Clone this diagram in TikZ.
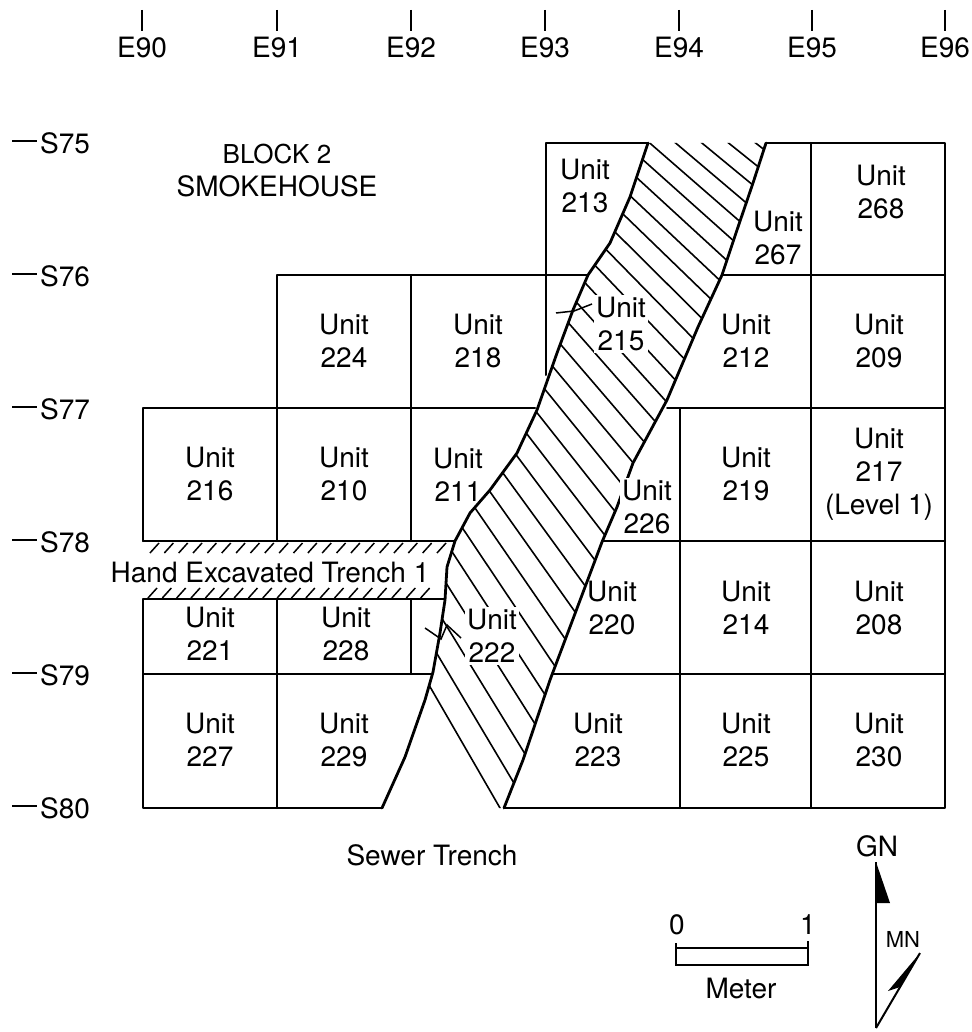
\documentclass[tikz,border=0pt]{standalone}
\usepackage{fontspec}
\setmainfont{TeX Gyre Heros}
\begin{document}
\begin{tikzpicture}[x=1pt,y=-1pt,
  lbl/.style={font=\fontsize{28}{33}\selectfont, align=center, inner sep=1pt},
  unit/.style={lbl},
  wunit/.style={lbl, fill=white, inner sep=2pt},
  grid/.style={line width=2pt, line cap=round, line join=round},
  bound/.style={line width=2.8pt, line cap=round, line join=round},
  hatch/.style={line width=1.6pt},
  slash/.style={line width=1.5pt},
  tick/.style={line width=2.6pt},
  trench/.style={insert path={(648,143) -- (630,197) -- (610,243) -- (588,275) -- (573,310) -- (557,353) -- (537,410) -- (517,453) -- (490,490) -- (470,513) -- (455,541) -- (447,567) -- (445,600) -- (440,633) -- (433,672) -- (425,700) -- (405,757) -- (382,808) -- (504,808) -- (523,760) -- (550,680) -- (602,542) -- (617,507) -- (633,463) -- (667,400) -- (698,327) -- (722,275) -- (737,230) -- (753,183) -- (766,143) -- cycle}}
]
\useasboundingbox (0,0) rectangle (971,1032);

% --- easting ticks and labels
\foreach \x/\n in {142/E90,277/E91,411/E92,545/E93,679/E94,812/E95,945/E96}{
  \draw[tick] (\x,10) -- (\x,31);
  \node[lbl] (lab\n) at (\x,48) {\n};
}
% --- northing ticks and labels
\foreach \y/\n in {143/S75,276/S76,409/S77,542/S78,675/S79,808/S80}{
  \draw[tick] (12,\y-2) -- (37,\y-2);
  \node[lbl, anchor=west] (lab\n) at (39,\y) {\n};
}

% --- hatching of sewer trench
\begin{scope}
  \clip[trench];
  \foreach \i in {0,...,29}{
    \pgfmathsetmacro\t{\i/29}
    \pgfmathsetmacro\yy{114+636*(0.714*\t+0.286*\t*\t)}
    \pgfmathsetmacro\xx{707-0.3962*(\yy-143)}
    \pgfmathsetmacro\aa{38+22*\t}
    \draw[hatch] ({\xx-260*cos(\aa)},{\yy-260*sin(\aa)}) -- ({\xx+260*cos(\aa)},{\yy+260*sin(\aa)});
  }
\end{scope}

% --- grid lines
\draw[grid] (546,275) -- (546,143) -- (648,143);
\draw[grid] (766,143) -- (945,143) -- (945,808) -- (504,808);
\draw[grid] (382,808) -- (143,808) -- (143,599) -- (445,599);
\draw[grid] (143,541) -- (143,408) -- (535,408);
\draw[grid] (277,599) -- (277,808);
\draw[grid] (143,674) -- (432,674);
\draw[grid] (411,599) -- (411,674);
\draw[grid] (143,541) -- (455,541);
\draw[grid] (277,541) -- (277,275) -- (588,275);
\draw[grid] (411,275) -- (411,541);
\draw[grid] (546,275) -- (546,375);
\draw[grid] (722,275) -- (945,275);
\draw[grid] (667,408) -- (945,408);
\draw[grid] (602,541) -- (945,541);
\draw[grid] (552,674) -- (945,674);
\draw[grid] (811,143) -- (811,808);
\draw[grid] (680,408) -- (680,808);

% --- hand excavated trench slashes
\foreach \k in {0,...,20}{
  \draw[slash] ({150+14.35*\k},553) -- ++(9,-10);
}
\foreach \k in {0,...,19}{
  \draw[slash] ({148+14.35*\k},598) -- ++(9,-10);
}

% --- sewer trench boundaries
\draw[bound] (648,143) -- (630,197) -- (610,243) -- (588,275) -- (573,310) -- (557,353) -- (537,410) -- (517,453) -- (490,490) -- (470,513) -- (455,541) -- (447,567) -- (445,600) -- (440,633) -- (433,672) -- (425,700) -- (405,757) -- (382,808);
\draw[bound] (504,808) -- (523,760) -- (550,680) -- (602,542) -- (617,507) -- (633,463) -- (667,400) -- (698,327) -- (722,275) -- (737,230) -- (753,183) -- (766,143);

% --- leaders
\draw[line width=1.5pt] (556,313) -- (574,311) -- (592,304);
\draw[line width=1.5pt] (425,628) -- (441,639) -- (447,625) -- (461,638);

% --- labels
\node[lbl] (block) at (277,171) {\fontsize{26}{27}\selectfont BLOCK 2\\SMOKEHOUSE};

\node[unit] (u213) at (585,186) {Unit\\213};
\node[unit] (u267) at (778,238) {Unit\\267};
\node[unit] (u268) at (881,192) {Unit\\268};

\node[unit] (u224) at (344,341) {Unit\\224};
\node[unit] (u218) at (478,341) {Unit\\218};
\node[wunit] (u215) at (621,324) {Unit\\215};
\node[unit] (u212) at (746,341) {Unit\\212};
\node[unit] (u209) at (879,341) {Unit\\209};

\node[unit] (u216) at (210,474) {Unit\\216};
\node[unit] (u210) at (344,474) {Unit\\210};
\node[unit] (u211) at (458,475) {Unit\\211};
\node[wunit] (u226) at (647,507) {Unit\\226};
\node[unit] (u219) at (746,474) {Unit\\219};
\node[unit] (u217) at (879,474) {Unit\\217\\(Level 1)};

\node[wunit, inner sep=0pt] (het) at (270,572) {Hand Excavated Trench 1};

\node[unit] (u221) at (210,634) {Unit\\221};
\node[unit] (u228) at (346,634) {Unit\\228};
\node[wunit] (u222) at (492,636) {Unit\\222};
\node[unit] (u220) at (612,608) {Unit\\220};
\node[unit] (u214) at (746,608) {Unit\\214};
\node[unit] (u208) at (879,608) {Unit\\208};

\node[unit] (u227) at (210,740) {Unit\\227};
\node[unit] (u229) at (344,740) {Unit\\229};
\node[unit] (u223) at (598,740) {Unit\\223};
\node[unit] (u225) at (746,740) {Unit\\225};
\node[unit] (u230) at (879,740) {Unit\\230};

\node[lbl] (sewer) at (432,855) {Sewer Trench};

% --- scale bar
\draw[line width=1.7pt] (676,943) -- (676,965) -- (808,965) -- (808,941);
\draw[line width=1.7pt] (676,948) -- (808,948);
\node[lbl] (s0) at (677,925) {0};
\node[lbl] (s1) at (808,925) {1};
\node[lbl] (meter) at (741,988) {Meter};

% --- north arrow
\node[lbl] (gn) at (877,846) {GN};
\node[lbl, font=\fontsize{22}{24}\selectfont] (mn) at (903,939) {MN};
\coordinate (nbase) at (876,1028);
\coordinate (gntip) at (876,862);
\coordinate (mntip) at (920,953);
\draw[line width=2pt] (nbase) -- (gntip);
\fill (gntip) -- (890,903) -- (876,903) -- cycle;
\draw[line width=2pt] (nbase) -- (mntip);
\fill (mntip) -- (888,991) -- (900,987) -- cycle;
\end{tikzpicture}
\end{document}
